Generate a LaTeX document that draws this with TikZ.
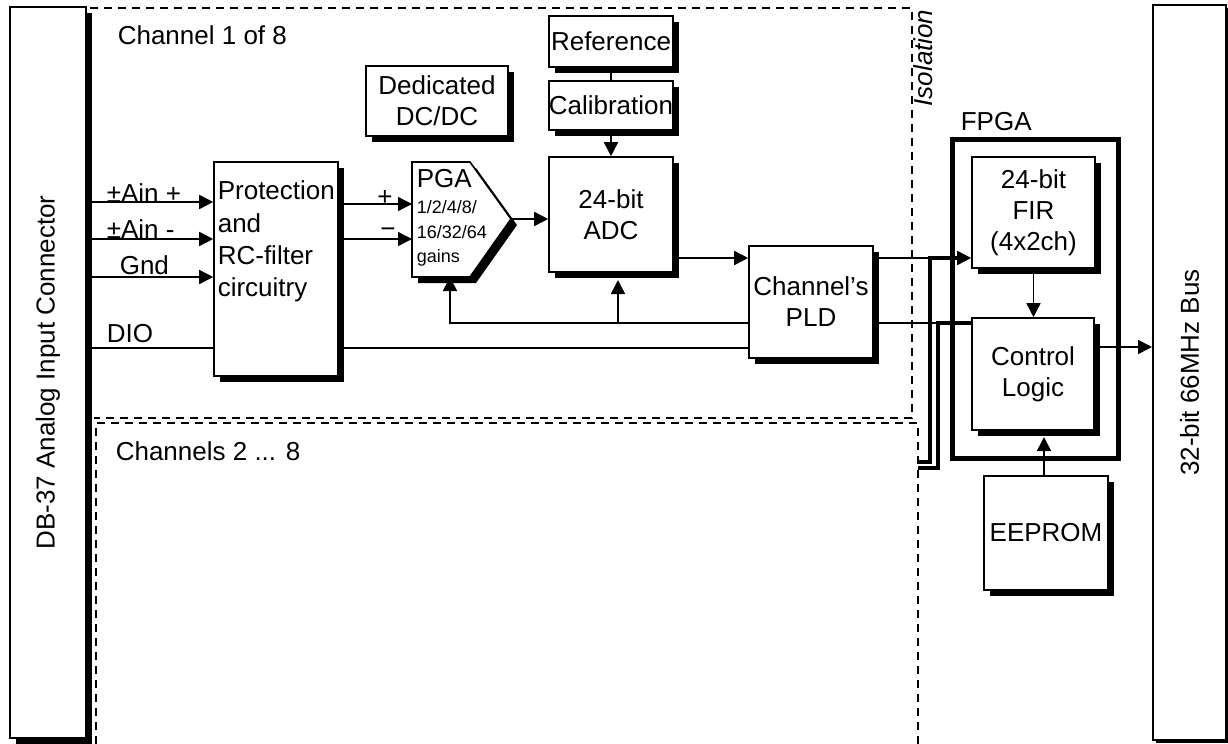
\documentclass[tikz,border=0pt]{standalone}
\usepackage{fontspec}
\setmainfont{Liberation Sans}
\usetikzlibrary{arrows.meta,shadows}

\begin{document}
\begin{tikzpicture}[x=0.5pt, y=-0.5pt, line width=0.8pt,
    txt/.style = {font=\fontsize{13}{15.5}\selectfont, inner sep=0pt},
    small/.style = {font=\fontsize{9}{12.25}\selectfont, inner sep=0pt},
    shd/.style = {drop shadow={shadow xshift=#1, shadow yshift=-#1, fill=black, opacity=1}},
    shd/.default = 3pt,
    box/.style = {draw, fill=white, txt, align=center, minimum width=62pt},
    arr/.style = {-{Triangle[length=7pt, width=7pt]}},
    iso/.style = {line width=0.7pt, dash pattern=on 4pt off 3pt},
    bus/.style = {line width=1.6pt}]
        \useasboundingbox (0,0) rectangle (1228,744);

        % Isolated areas
        \draw[iso] (90,8) -- (912,8) -- (912,418) -- (94,418);
        \draw[iso] (96,744) -- (96,423) -- (918,423) -- (918,744);
        \node[txt, anchor=west] (ch1) at (117,35) {Channel 1 of 8};
        \node[txt, anchor=west] (ch2) at (115,451) {Channels 2 ... 8};
        \node[txt, font=\fontsize{13}{15.5}\selectfont\itshape, rotate=90] (iso) at (923,58) {Isolation};

        % Nodes
        \node[box, shd=3.2pt, line width=1pt, minimum width=38pt, minimum height=365.5pt] (conn) at (48,372.5) {\rotatebox{90}{DB-37 Analog Input Connector}};
        \node[box, shd=1.5pt, line width=1pt, minimum width=36.5pt, minimum height=367.5pt] (bus) at (1189.5,372.5) {\rotatebox{90}{32-bit 66MHz Bus}};
        \node[box, shd, minimum height=107pt] (prot) at (276,269) {};
        \node[txt, anchor=north west, align=left, font=\fontsize{13}{16.2}\selectfont] (prottxt) at (217,180) {Protection\\and\\RC-filter\\circuitry};
        \node[box, shd, minimum width=71pt, minimum height=35pt] (dcdc) at (437,101) {Dedicated\\DC/DC};
        \node[box, shd, minimum height=25.5pt] (ref) at (611,41.5) {Reference};
        \node[box, shd, minimum height=24.5pt] (cal) at (611,105.5) {Calibration};
        \node[box, shd, minimum height=57.5pt] (adc) at (611,214.5) {24-bit\\ADC};
        \node[box, shd, minimum height=56pt] (pld) at (811,302) {Channel’s\\PLD};
        \node[draw, line width=2.5pt, minimum width=83pt, minimum height=159.5pt] (fpga) at (1035,298.5) {};
        \node[txt, anchor=west] (fpgatxt) at (960,122) {FPGA};
        \node[box, shd, minimum width=61.5pt, minimum height=55.5pt] (fir) at (1033.5,212.5) {24-bit\\FIR\\(4x2ch)};
        \node[box, shd, minimum width=61pt, minimum height=56pt] (ctrl) at (1033,374) {Control\\Logic};
        \node[box, shd, minimum height=57pt] (eeprom) at (1046,533) {EEPROM};

        % PGA
        \fill[shift={(6,6)}] (412,162) -- (470,162) -- (511,219) -- (470,277) -- (412,277) -- cycle;
        \draw[fill=white] (412,162) -- (470,162) -- (511,219) coordinate (pgatip) -- (470,277) -- (412,277) -- cycle;
        \coordinate (pgaw) at (412,219);
        \coordinate (pgab) at (450,277);
        \node[txt, anchor=west] (pgatxt) at (416,179) {PGA};
        \node[small, anchor=north west, align=left] (gains) at (416,200) {1/2/4/8/\\16/32/64\\gains};

        % Labels
        \node[txt, anchor=west] (ainp) at (106,193) {±Ain +};
        \node[txt, anchor=west] (ainm) at (106,229) {±Ain -};
        \node[txt, anchor=west] (gnd) at (119,265) {Gnd};
        \node[txt, anchor=west] (dio) at (106,334) {DIO};
        \node[txt] (plus) at (385,198) {+};
        \node[txt] (minus) at (388,233) {−};

        % Connections
        \coordinate (adcin) at (618,280);
        \coordinate (ctrlin) at (1044,437);
        \coordinate (chbus1) at (918,462);
        \coordinate (chbus2) at (918,468);
        \draw[arr] (conn.east |- 0,202) -- (prot.west |- 0,202);
        \draw[arr] (conn.east |- 0,239) -- (prot.west |- 0,239);
        \draw[arr] (conn.east |- 0,277) -- (prot.west |- 0,277);
        \draw (conn.east |- 0,348) -- (prot.west |- 0,348);
        \draw (prot.east |- 0,348) -- (pld.west |- 0,348);
        \draw[arr] (prot.east |- 0,204) -- (pgaw |- 0,204);
        \draw[arr] (prot.east |- 0,239) -- (pgaw |- 0,239);
        \draw[arr] (pgatip) -- (adc.west |- pgatip);
        \draw (ref) -- (cal);
        \draw[arr] (cal) -- (adc);
        \draw[arr] (adc.east |- 0,258) -- (pld.west |- 0,258);
        \draw[arr] (pld.west |- 0,323) -| (pgab);
        \draw[arr] (adcin |- 0,323) -- (adcin);
        \draw[arr] (pld.east |- 0,258) -- (fir.west |- 0,258);
        \draw (pld.east |- 0,323) -- (ctrl.west |- 0,323);
        \draw[bus] (chbus1) -| (930,258) -- (958,258);
        \draw[bus] (chbus2) -| (938,323) -- (ctrl.west |- 0,323);
        \draw[arr] (fir.south) -- (fir.south |- ctrl.north);
        \draw[arr] (ctrl.east |- 0,347) -- (bus.west |- 0,347);
        \draw[arr] (ctrlin |- eeprom.north) -- (ctrlin);
\end{tikzpicture}
\end{document}
